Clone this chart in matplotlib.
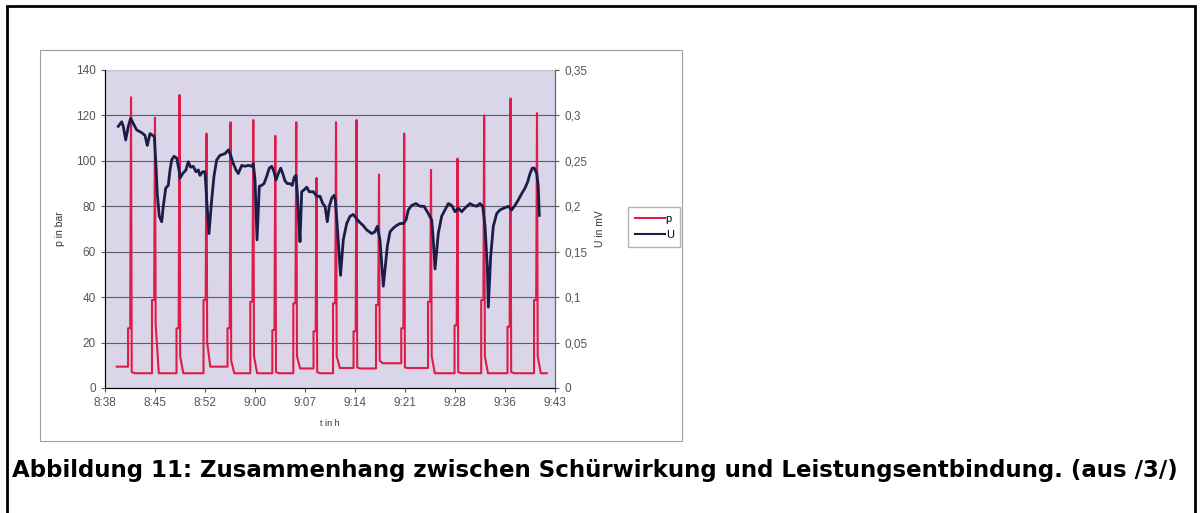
import numpy as np
import matplotlib
matplotlib.use("Agg")
import matplotlib.pyplot as plt
from matplotlib.patches import Rectangle
from matplotlib.lines import Line2D

plt.rcParams['font.family'] = ['Liberation Sans', 'DejaVu Sans']

# time axis in minutes after 8:38
x_tick_labels = ['8:38', '8:45', '8:52', '9:00', '9:07', '9:14', '9:21', '9:28', '9:36', '9:43']
x_end = 65

# pressure p (bar): one pressing cycle per spike
p_start_t = 1.69
p_start_level = 9.4
p_end_t = 63.8
spike_t = [3.76, 7.22, 10.76, 14.66, 18.13, 21.42, 24.60, 27.63, 30.55,
           33.37, 36.33, 39.58, 43.22, 47.09, 50.92, 54.77, 58.57, 62.40]
spike_peak = [128, 119, 129, 112, 117, 118, 111, 117, 92.5,
              117, 118, 94, 112, 96, 101, 120, 127.5, 121]
spike_pre = [26.3, 38.7, 26.3, 38.7, 26.3, 38, 25.5, 37.3, 25,
             37.3, 25, 36.6, 26.3, 38, 27.6, 38.7, 27, 38.7]
spike_tail = [7, 28, 14, 20, 12, 14, 7, 14, 7,
              14, 9, 12, 9, 14, 7, 14, 7, 14]
spike_base = [6.5, 6.5, 6.5, 9.4, 6.5, 6.5, 6.5, 8.6, 6.5,
              8.8, 8.6, 10.9, 8.8, 6.5, 6.5, 6.5, 6.5, 6.5]

# voltage U (mV)
u_t = [1.92, 2.41, 2.64, 2.99, 3.37, 3.71, 4.09, 4.58, 5.30, 5.78, 6.11, 6.50,
       6.89, 7.12, 7.37, 7.55, 7.84, 8.19, 8.42, 8.77, 9.14, 9.39, 9.63, 9.97,
       10.36, 10.69, 10.83, 11.22, 11.70, 12.03, 12.38, 12.75, 13.14, 13.48,
       13.72, 14.11, 14.44, 14.69, 15.02, 15.41, 15.74, 16.13, 16.61, 17.33,
       17.81, 18.16, 18.53, 18.92, 19.25, 19.75, 20.22, 20.70, 21.19, 21.42,
       21.67, 21.81, 21.96, 22.29, 22.63, 22.97, 23.36, 23.73, 24.08, 24.41,
       24.70, 25.03, 25.38, 25.67, 26.00, 26.33, 26.72, 27.05, 27.34, 27.59,
       27.78, 27.98, 28.17, 28.41, 28.74, 29.13, 29.51, 30.09, 30.58, 31.06,
       31.45, 31.78, 32.11, 32.40, 32.75, 33.08, 33.27, 33.55, 34.02, 34.42,
       34.91, 35.39, 35.87, 36.36, 36.83, 37.27, 37.80, 38.52, 39.00, 39.33,
       39.72, 40.20, 40.78, 41.17, 41.64, 42.14, 42.61, 43.09, 43.48, 43.81,
       44.30, 44.92, 45.50, 46.08, 46.70, 47.19, 47.42, 47.67, 48.14, 48.63,
       49.11, 49.59, 50.08, 50.56, 51.03, 51.52, 52.00, 52.72, 53.20, 53.69,
       54.17, 54.56, 54.89, 55.22, 55.37, 55.71, 56.09, 56.58, 57.06, 57.63,
       58.25, 58.75, 59.22, 59.70, 60.19, 60.67, 61.06, 61.39, 61.72, 62.01,
       62.36, 62.58, 62.73]
u_val = [0.288, 0.293, 0.288, 0.273, 0.288, 0.297, 0.291, 0.284, 0.281, 0.278, 0.267, 0.280,
         0.278, 0.277, 0.244, 0.214, 0.189, 0.183, 0.200, 0.220, 0.223, 0.240, 0.251, 0.255,
         0.253, 0.240, 0.231, 0.236, 0.240, 0.249, 0.243, 0.244, 0.238, 0.240,
         0.234, 0.238, 0.238, 0.207, 0.170, 0.207, 0.233, 0.251, 0.256, 0.258,
         0.262, 0.256, 0.247, 0.240, 0.236, 0.245, 0.244, 0.245, 0.244, 0.247,
         0.229, 0.196, 0.163, 0.222, 0.223, 0.225, 0.233, 0.242, 0.244, 0.238,
         0.229, 0.236, 0.242, 0.236, 0.228, 0.225, 0.225, 0.223, 0.232, 0.234,
         0.214, 0.185, 0.161, 0.216, 0.218, 0.221, 0.216, 0.216, 0.211, 0.211,
         0.203, 0.200, 0.183, 0.200, 0.209, 0.212, 0.207, 0.178, 0.124, 0.163,
         0.181, 0.189, 0.191, 0.186, 0.182, 0.179, 0.174, 0.170, 0.172, 0.178,
         0.163, 0.112, 0.156, 0.172, 0.176, 0.179, 0.181, 0.181, 0.185, 0.196,
         0.201, 0.203, 0.200, 0.200, 0.192, 0.185, 0.163, 0.131, 0.170, 0.189,
         0.196, 0.203, 0.201, 0.194, 0.198, 0.194, 0.198, 0.203, 0.201, 0.200,
         0.203, 0.200, 0.178, 0.134, 0.089, 0.145, 0.178, 0.192, 0.196, 0.198,
         0.200, 0.196, 0.201, 0.207, 0.214, 0.220, 0.227, 0.236, 0.242, 0.242,
         0.236, 0.222, 0.190]

# build the step/spike polyline of p from the cycle table
p_t = [p_start_t]
p_v = [p_start_level]
prev = p_start_level
for ts, pk, pr, tl, bs in zip(spike_t, spike_peak, spike_pre, spike_tail, spike_base):
    p_t += [ts - 0.43, ts - 0.43, ts - 0.12, ts, ts + 0.1, ts + 0.55]
    p_v += [prev, pr, pr, pk, tl, bs]
    prev = bs
p_t.append(p_end_t)
p_v.append(prev)

red = '#dd1c48'
navy = '#1b1d48'
grey = '#555555'

fig = plt.figure(figsize=(12, 5.13), dpi=100)

# outer page frame and chart frame
fig.patches.append(Rectangle((7/1200, -0.02), 1188/1200, 1 - 6/513 + 0.02,
                             transform=fig.transFigure, fill=False,
                             edgecolor='black', linewidth=2))
fig.patches.append(Rectangle((40/1200, 1 - 441/513), 642/1200, 391/513,
                             transform=fig.transFigure, fill=False,
                             edgecolor='#a0a0a0', linewidth=0.8))

ax = fig.add_axes([105/1200, 1 - 388/513, 450/1200, 318/513])
ax.set_facecolor('#dad5e9')
ax.plot(p_t, p_v, color=red, linewidth=1.5)
ax.set_xlim(0, x_end)
ax.set_ylim(0, 140)
ax.set_yticks(np.arange(0, 141, 20))
ax.set_xticks(np.linspace(0, x_end, len(x_tick_labels)))
ax.set_xticklabels(x_tick_labels)
ax.yaxis.grid(True, color='#5c5c6a', linewidth=0.8)
ax.set_axisbelow(True)
ax.tick_params(labelsize=8.5, colors=grey, length=3, width=0.8)
ax.set_ylabel('p in bar', fontsize=7.5, color='#333333', labelpad=8)
ax.set_xlabel('t in h', fontsize=6.5, color='#333333', labelpad=7)
for s in ['left', 'bottom']:
    ax.spines[s].set_color('#6a6a6a')
ax.spines['top'].set_color('#c8c8d0')

ax2 = ax.twinx()
ax2.plot(u_t, u_val, color=navy, linewidth=2)
ax2.set_ylim(0, 0.35)
ax2.set_yticks(np.arange(0, 0.351, 0.05))
ax2.set_yticklabels(['0', '0,05', '0,1', '0,15', '0,2', '0,25', '0,3', '0,35'])
ax2.tick_params(labelsize=8.5, colors=grey, length=3, width=0.8)
ax2.set_ylabel('U in mV', fontsize=7.5, color='#333333', labelpad=6)
ax2.spines['right'].set_color('#6a6a6a')
ax2.spines['top'].set_visible(False)

handles = [Line2D([], [], color=red, linewidth=1.5),
           Line2D([], [], color=navy, linewidth=1.5)]
fig.legend(handles, ['p', 'U'], loc='center left',
           bbox_to_anchor=(628/1200, 1 - 227/513), fontsize=8,
           frameon=True, fancybox=False, edgecolor='#a0a0a0',
           handlelength=2.7, handletextpad=0.1, borderpad=0.6,
           labelspacing=0.6, borderaxespad=0)

fig.text(12/1200, 1 - 471/513,
         'Abbildung 11: Zusammenhang zwischen Schürwirkung und Leistungsentbindung. (aus /3/)',
         fontsize=16.5, fontweight='bold', va='center', ha='left',
         family=['DejaVu Sans'])

fig.savefig('out.png', dpi=100)
